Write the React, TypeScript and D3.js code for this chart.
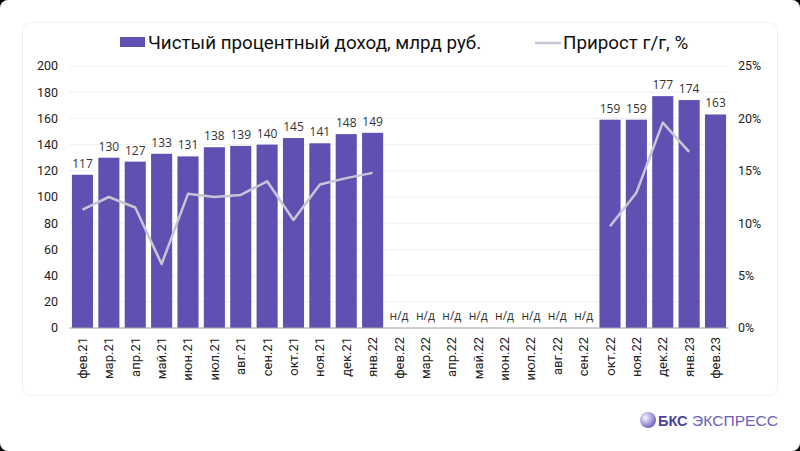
import React from "react";
import * as d3 from "d3";

const categories = ["фев.21","мар.21","апр.21","май.21","июн.21","июл.21","авг.21","сен.21","окт.21","ноя.21","дек.21","янв.22","фев.22","мар.22","апр.22","май.22","июн.22","июл.22","авг.22","сен.22","окт.22","ноя.22","дек.22","янв.23","фев.23"];
const income: (number | null)[] = [117,130,127,133,131,138,139,140,145,141,148,149,null,null,null,null,null,null,null,null,159,159,177,174,163];
const growth: (number | null)[] = [11.3,12.5,11.5,6.1,12.8,12.5,12.7,14.0,10.3,13.7,14.3,14.8,null,null,null,null,null,null,null,null,9.7,12.9,19.6,16.8,null];
const leftTicks = [0,20,40,60,80,100,120,140,160,180,200];
const rightTicks = [0,5,10,15,20,25];

const W = 800, H = 451;
const M = { left: 69.3, right: 728.7, top: 66, bottom: 328 };
const BAR = "#6150b1";
const LINE = "#c9c5d6";

export default function App() {
  const x = d3.scaleBand<string>().domain(categories).range([M.left, M.right]).paddingInner(0.2).paddingOuter(0.1);
  const y = d3.scaleLinear().domain([0, 200]).range([M.bottom, M.top]);
  const y2 = d3.scaleLinear().domain([0, 25]).range([M.bottom, M.top]);
  const cx = (c: string) => (x(c) as number) + x.bandwidth() / 2;
  const lineGen = d3.line<number | null>()
    .defined(d => d !== null)
    .x((_, i) => cx(categories[i]))
    .y(d => y2(d as number));
  const font = "Roboto, 'Liberation Sans', sans-serif";
  const labelFont = "'Open Sans', 'Noto Sans', sans-serif";
  return (
    <svg width={W} height={H} style={{ position: "absolute", left: 0, top: 0, background: "#000" }}>
      <rect x={0} y={0} width={W} height={H} rx={8} fill="#fff" />
      <rect x={22.5} y={22.5} width={755} height={373} rx={8} fill="#fff" stroke="#f0f0f2" strokeWidth={1} />
      {leftTicks.map(t => (
        <line key={"g" + t} x1={M.left} x2={M.right} y1={y(t)} y2={y(t)} stroke="#f1f1f1" strokeWidth={1} />
      ))}
      {leftTicks.map(t => (
        <text key={"l" + t} x={58} y={y(t)} dy="0.35em" textAnchor="end" fontFamily={font} fontSize={12.5} fill="#222">{t}</text>
      ))}
      {rightTicks.map(t => (
        <text key={"r" + t} x={738} y={y2(t)} dy="0.35em" textAnchor="start" fontFamily={font} fontSize={12.5} fill="#222">{t + "%"}</text>
      ))}
      {categories.map((c, i) => {
        const v = income[i];
        if (v === null) return null;
        return <rect key={"b" + c} x={x(c)} y={y(v)} width={x.bandwidth()} height={y(0) - y(v)} fill={BAR} />;
      })}
      <line x1={M.left} x2={M.right} y1={y(0)} y2={y(0)} stroke="#a6a6a6" strokeWidth={1} />
      <path d={lineGen(growth) || ""} fill="none" stroke={LINE} strokeWidth={2.5} strokeLinejoin="round" />
      {categories.map((c, i) => {
        const v = income[i];
        return (
          <text key={"v" + c} x={cx(c)} y={v === null ? y(0) - 8 : y(v) - 7} textAnchor="middle" fontFamily={labelFont} fontSize={12} fill="#333">
            {v === null ? "н/д" : v}
          </text>
        );
      })}
      {categories.map(c => (
        <text key={"x" + c} transform={`translate(${cx(c) + 4.5},337) rotate(-90)`} textAnchor="end" fontFamily={font} fontSize={13} fill="#222">{c}</text>
      ))}
      <rect x={120} y={37} width={25} height={10} fill={BAR} />
      <text x={148} y={49} fontFamily={font} fontSize={18.8} fill="#111">Чистый процентный доход, млрд руб.</text>
      <line x1={535} x2={561} y1={43} y2={43} stroke={LINE} strokeWidth={2.5} />
      <text x={563} y={49} fontFamily={font} fontSize={18.8} fill="#111">Прирост г/г, %</text>
      <defs>
        <radialGradient id="sph" cx="0.35" cy="0.35" r="0.7">
          <stop offset="0" stopColor="#f4f2fb" />
          <stop offset="0.6" stopColor="#a89ddc" />
          <stop offset="1" stopColor="#6a5cc0" />
        </radialGradient>
      </defs>
      <circle cx={648} cy={420} r={8} fill="url(#sph)" />
      <text x={658} y={425.5} fontFamily="'Liberation Sans', Arial, sans-serif" fontSize={14.5} fontWeight="bold" fill="#4b3fa0">БКС</text>
      <text x={692} y={425.5} textLength={86} lengthAdjust="spacingAndGlyphs" fontFamily="'Liberation Sans', Arial, sans-serif" fontSize={14.5} fill="#6a5fb8">ЭКСПРЕСС</text>
    </svg>
  );
}
